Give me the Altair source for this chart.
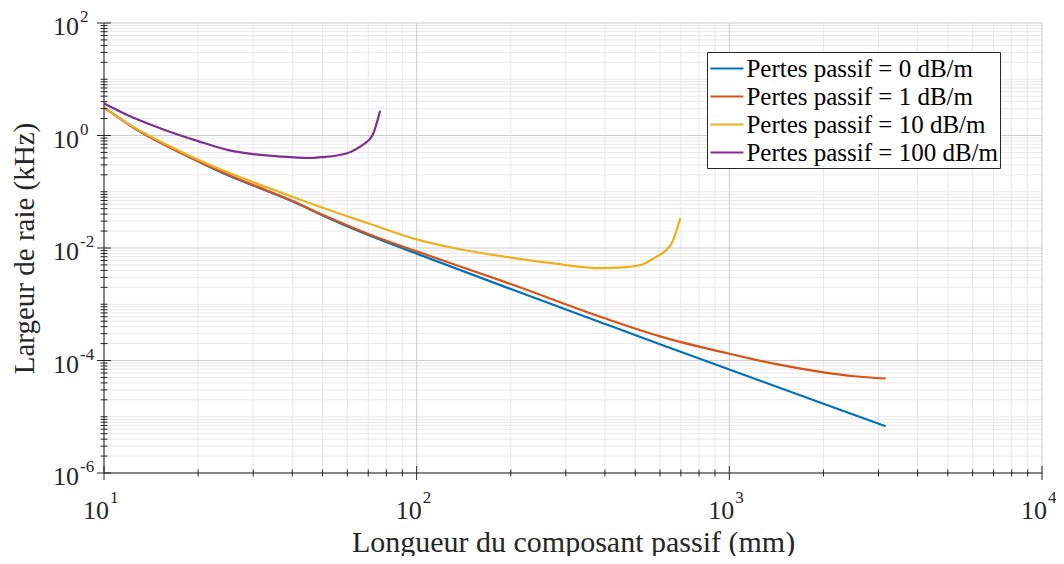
import altair as alt
import pandas as pd

W, H = 938, 450
FONT = "Liberation Serif"
INK = "#262626"

series_names = [
    "Pertes passif = 0 dB/m",
    "Pertes passif = 1 dB/m",
    "Pertes passif = 10 dB/m",
    "Pertes passif = 100 dB/m",
]
series_colors = ["#0072BD", "#D95319", "#EDB120", "#7E2F8E"]

# Longueur du composant passif (mm) / Largeur de raie (kHz)
len_0db = [10, 12.6, 15.8, 20, 25, 30, 40, 50, 70, 100, 200, 400, 600, 1000, 2000, 3162]
lw_0db = [3.16, 1.32, 0.661, 0.347, 0.195, 0.129, 0.0676, 0.0380, 0.0170, 0.00794,
          0.00186, 4.47e-4, 1.95e-4, 6.92e-5, 1.70e-5, 6.76e-6]

len_1db = [10, 12.6, 15.8, 20, 25, 30, 40, 50, 70, 100, 200, 400, 600, 1000, 1400, 2000, 2512, 3162]
lw_1db = [3.16, 1.32, 0.661, 0.347, 0.200, 0.132, 0.0692, 0.0389, 0.0178, 0.00871,
          0.00229, 5.62e-4, 2.69e-4, 1.32e-4, 8.7e-5, 6.17e-5, 5.25e-5, 4.79e-5]

len_10db = [10, 12.6, 15.8, 20, 25, 30, 40, 50, 70, 100, 140, 200, 270, 390, 470, 530,
            570, 600, 630, 655, 697]
lw_10db = [3.16, 1.35, 0.692, 0.372, 0.219, 0.148, 0.0813, 0.052, 0.0275, 0.0142,
           0.0093, 0.00676, 0.00537, 0.00437, 0.00457, 0.00513, 0.00646, 0.00759,
           0.00933, 0.0123, 0.0339]

len_100db = [10, 12.6, 15.8, 20, 25, 30, 36, 45, 50, 60, 65, 67.5, 72.3, 76.4]
lw_100db = [3.72, 2.0, 1.23, 0.794, 0.55, 0.468, 0.427, 0.398, 0.412, 0.484, 0.603, 0.692, 1.02, 2.75]

# axis ticks
x_major = [10, 100, 1000, 10000]
x_major_exp = ["1", "2", "3", "4"]
x_minor = [m * 10 ** k for k in (1, 2, 3) for m in range(2, 10)]
y_major = [1e2, 1e0, 1e-2, 1e-4, 1e-6]
y_major_exp = ["2", "0", "-2", "-4", "-6"]
y_minor = [m * 10.0 ** k for k in range(-6, 2) for m in range(1, 10)
           if not (m == 1 and k % 2 == 0)]

rows = []
for name, xs, ys in zip(series_names,
                        [len_0db, len_1db, len_10db, len_100db],
                        [lw_0db, lw_1db, lw_10db, lw_100db]):
    for xv, yv in zip(xs, ys):
        rows.append({"v": xv, "w": yv, "serie": name})
df = pd.DataFrame(rows)

xs_ = alt.Scale(type="log", domain=[10, 10000], nice=False)
ys_ = alt.Scale(type="log", domain=[1e-6, 1e2], nice=False)

xaxis = alt.Axis(title="Longueur du composant passif (mm)", labels=False, ticks=False,
                 domain=False, grid=False, titleFont=FONT, titleFontSize=30,
                 titleFontWeight="normal", titleColor=INK, titlePadding=54)
yaxis = alt.Axis(title="Largeur de raie (kHz)", labels=False, ticks=False,
                 domain=False, grid=False, titleFont=FONT, titleFontSize=29,
                 titleFontWeight="normal", titleColor=INK, titlePadding=65)

df_xmin = pd.DataFrame({"v": x_minor})
df_xmaj = pd.DataFrame({"v": x_major, "b": ["10"] * 4, "e": x_major_exp})
df_ymin = pd.DataFrame({"w": y_minor})
df_ymaj = pd.DataFrame({"w": y_major, "b": ["10"] * 5, "e": y_major_exp})
one = pd.DataFrame({"a": [0]})

X = lambda: alt.X("v:Q", scale=xs_, axis=xaxis)
Y = lambda: alt.Y("w:Q", scale=ys_, axis=yaxis)

grid_xmin = alt.Chart(df_xmin).mark_rule(color="#e8e8e8", strokeWidth=1).encode(x=X())
grid_ymin = alt.Chart(df_ymin).mark_rule(color="#e8e8e8", strokeWidth=1).encode(y=Y())
grid_xmaj = alt.Chart(df_xmaj).mark_rule(color="#cdcdcd", strokeWidth=1).encode(x=X())
grid_ymaj = alt.Chart(df_ymaj).mark_rule(color="#cdcdcd", strokeWidth=1).encode(y=Y())

lines = alt.Chart(df).mark_line(strokeWidth=2.2, interpolate="monotone").encode(
    x=X(),
    y=Y(),
    color=alt.Color("serie:N", scale=alt.Scale(domain=series_names, range=series_colors),
                    legend=alt.Legend(
                        title=None, orient="none", legendX=603, legendY=29,
                        symbolType="M-1.27,0H1.27", symbolStrokeWidth=2.2, symbolSize=676,
                        symbolOffset=3.4,
                        labelFont=FONT, labelFontSize=25, labelColor="black",
                        labelLimit=400, labelOffset=5, padding=2, rowPadding=0,
                        fillColor="white", strokeColor=INK)),
)

axis_left = alt.Chart(one).mark_rule(color=INK, strokeWidth=1).encode(
    x=alt.value(0), y=alt.value(0), y2=alt.value(H))
axis_bottom = alt.Chart(one).mark_rule(color=INK, strokeWidth=1).encode(
    x=alt.value(0), x2=alt.value(W), y=alt.value(H))

tick_xmaj = alt.Chart(df_xmaj).mark_rule(color=INK, strokeWidth=1).encode(
    x=X(), y=alt.value(H - 7), y2=alt.value(H + 7))
tick_xmin = alt.Chart(df_xmin).mark_rule(color=INK, strokeWidth=1).encode(
    x=X(), y=alt.value(H - 3.5), y2=alt.value(H + 3.5))
tick_ymaj = alt.Chart(df_ymaj).mark_rule(color=INK, strokeWidth=1).encode(
    y=Y(), x=alt.value(-7), x2=alt.value(7))
tick_ymin = alt.Chart(df_ymin).mark_rule(color=INK, strokeWidth=1).encode(
    y=Y(), x=alt.value(-3.5), x2=alt.value(3.5))

xl_base = alt.Chart(df_xmaj).mark_text(align="right", baseline="alphabetic", dx=5,
                                       font=FONT, fontSize=26, color=INK).encode(
    x=X(), y=alt.value(H + 46), text="b:N")
xl_exp = alt.Chart(df_xmaj).mark_text(align="left", baseline="alphabetic", dx=6,
                                      font=FONT, fontSize=17, color=INK).encode(
    x=X(), y=alt.value(H + 30), text="e:N")
yl_base = alt.Chart(df_ymaj).mark_text(align="right", baseline="alphabetic", dy=12,
                                       font=FONT, fontSize=26, color=INK).encode(
    y=Y(), x=alt.value(-25), text="b:N")
yl_exp = alt.Chart(df_ymaj).mark_text(align="left", baseline="alphabetic", dy=-1,
                                      font=FONT, fontSize=17, color=INK).encode(
    y=Y(), x=alt.value(-24), text="e:N")

chart = alt.layer(
    grid_xmin, grid_ymin, grid_xmaj, grid_ymaj,
    lines,
    axis_left, axis_bottom, tick_xmaj, tick_xmin, tick_ymaj, tick_ymin,
    xl_base, xl_exp, yl_base, yl_exp,
).properties(
    width=W, height=H,
    padding={"left": 96, "top": 15, "right": 14, "bottom": 83},
    autosize=alt.AutoSizeParams(type="none"),
    background="white",
).configure_view(stroke=None)

chart.save("out.html", embed_options={"renderer": "svg", "actions": False})
